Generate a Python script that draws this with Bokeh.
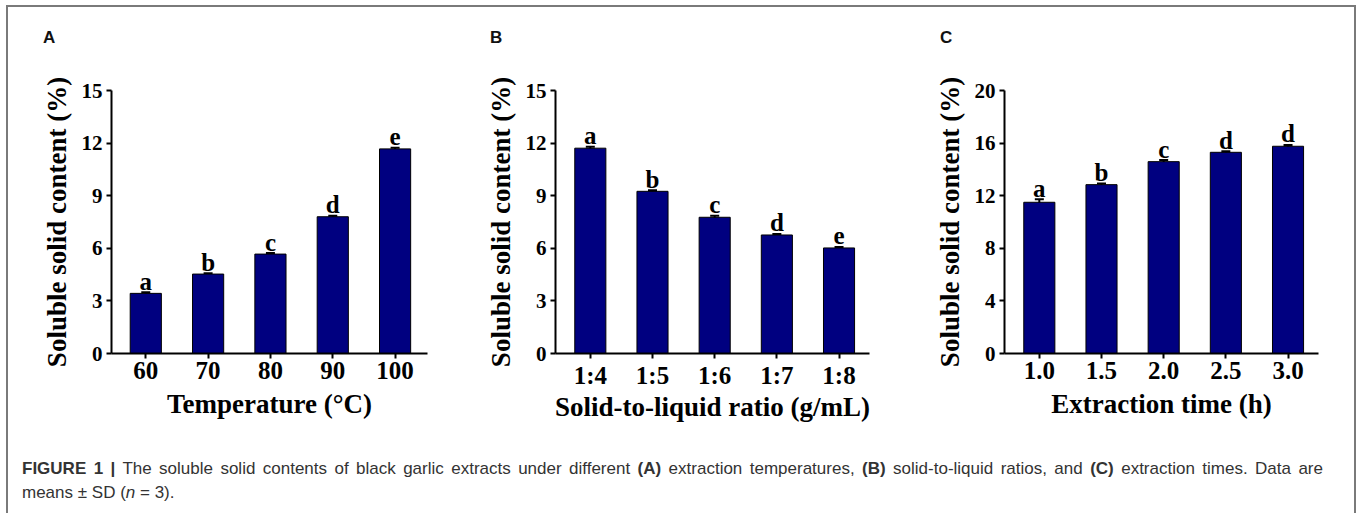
from bokeh.plotting import figure
from bokeh.models import Range1d, FixedTicker, Whisker, ColumnDataSource, Div, TeeHead
from bokeh.layouts import column, row
from bokeh.embed import file_html
from bokeh.resources import INLINE
from bokeh.core.properties import value

# ---------------- data ----------------
temp_labels = ["60", "70", "80", "90", "100"]
temp_means = [3.43, 4.53, 5.67, 7.80, 11.67]
temp_sd = [0.06, 0.05, 0.06, 0.05, 0.07]
temp_letters = ["a", "b", "c", "d", "e"]

ratio_labels = ["1:4", "1:5", "1:6", "1:7", "1:8"]
ratio_means = [11.71, 9.25, 7.77, 6.76, 6.02]
ratio_sd = [0.08, 0.06, 0.08, 0.06, 0.06]
ratio_letters = ["a", "b", "c", "d", "e"]

time_labels = ["1.0", "1.5", "2.0", "2.5", "3.0"]
time_means = [11.50, 12.84, 14.59, 15.30, 15.76]
time_sd = [0.23, 0.08, 0.12, 0.08, 0.10]
time_letters = ["a", "b", "c", "d", "d"]

yticks_ab = [0, 3, 6, 9, 12, 15]
yticks_c = [0, 4, 8, 12, 16, 20]

panel_tags = ["A", "B", "C"]

SERIF = "Liberation Serif"
SANS = "Liberation Sans"
BAR = "#000080"

CONTENT_TOP = 7       # page y of content (inside the border)
TAG_H = 40            # height of the panel-tag strip
FRAME_TOP_PAGE = 90
FRAME_H = 263
FIG_TOP_PAGE = CONTENT_TOP + TAG_H


def panel(labels, means, sd, letters, yticks, xlabel,
          fig_left_page, fig_w, frame_left_page, frame_w, xstart, xend,
          xlabel_standoff):
    ymax = yticks[-1]
    left = frame_left_page - fig_left_page
    right = fig_w - left - frame_w
    p = figure(title=None, frame_width=frame_w, frame_height=FRAME_H,
               min_border_left=left, min_border_right=right,
               min_border_top=FRAME_TOP_PAGE - FIG_TOP_PAGE, min_border_bottom=72,
               x_range=Range1d(xstart, xend), y_range=Range1d(0, ymax),
               output_backend="svg", toolbar_location=None)
    p.outline_line_color = None
    p.grid.visible = False
    p.background_fill_color = "white"
    p.border_fill_color = "white"

    ppu_y = FRAME_H / ymax
    xs = list(range(len(labels)))
    upper = [m + s for m, s in zip(means, sd)]
    src = ColumnDataSource(dict(
        x=xs, top=means,
        upper=upper,
        lower=[m - s for m, s in zip(means, sd)],
        lety=[u + 11 / ppu_y for u in upper],
        letter=letters))
    p.vbar(x="x", top="top", width=0.5, source=src,
           fill_color=BAR, line_color="black", line_width=1)
    w = Whisker(source=src, base="x", upper="upper", lower="lower",
                line_color="black", line_width=2,
                upper_head=TeeHead(size=9, line_width=2, line_color="black"),
                lower_head=TeeHead(size=9, line_width=2, line_color="black"))
    p.add_layout(w)
    p.text(x="x", y="lety", text="letter", source=src,
           text_font=value(SERIF), text_font_style="bold", text_font_size="25px",
           text_align="center", text_baseline="middle",
           text_color="black")

    for ax in (p.xaxis[0], p.yaxis[0]):
        ax.axis_line_width = 2
        ax.axis_line_color = "black"
        ax.major_tick_line_width = 2
        ax.major_tick_line_color = "black"
        ax.major_tick_out = 5
        ax.major_tick_in = 0
        ax.minor_tick_line_color = None
        ax.major_label_text_font = SERIF
        ax.major_label_text_font_style = "bold"
        ax.major_label_text_color = "black"
        ax.axis_label_text_font = SERIF
        ax.axis_label_text_font_style = "bold"
        ax.axis_label_text_font_size = "27px"
        ax.axis_label_text_color = "black"

    p.xaxis.ticker = FixedTicker(ticks=xs)
    p.xaxis.major_label_overrides = {i: lab for i, lab in zip(xs, labels)}
    p.xaxis.major_label_text_font_size = "25px"
    p.xaxis.major_label_standoff = 3
    p.xaxis.axis_label = xlabel
    p.xaxis.axis_label_standoff = xlabel_standoff

    p.yaxis.ticker = FixedTicker(ticks=yticks)
    p.yaxis.major_label_text_font_size = "21px"
    p.yaxis.major_label_standoff = 4
    p.yaxis.axis_label = "Soluble solid content (%)"
    p.yaxis.axis_label_standoff = 7
    return p


pA = panel(temp_labels, temp_means, temp_sd, temp_letters, yticks_ab,
           "Temperature (°C)",
           fig_left_page=8, fig_w=462, frame_left_page=111, frame_w=316,
           xstart=-0.55, xend=4.52, xlabel_standoff=7)
pB = panel(ratio_labels, ratio_means, ratio_sd, ratio_letters, yticks_ab,
           "Solid-to-liquid ratio (g/mL)",
           fig_left_page=470, fig_w=445, frame_left_page=555, frame_w=314,
           xstart=-0.56, xend=4.49, xlabel_standoff=0)
pC = panel(time_labels, time_means, time_sd, time_letters, yticks_c,
           "Extraction time (h)",
           fig_left_page=915, fig_w=439, frame_left_page=1004, frame_w=314,
           xstart=-0.56, xend=4.49, xlabel_standoff=7)

# panel tags strip
tag_left_page = [43, 490, 940]
tag_spans = "".join(
    f"<span style=\"position:absolute;left:{x - 8}px;top:22px;\">{t}</span>"
    for t, x in zip(panel_tags, tag_left_page))
tag_html = (
    "<div style=\"position:relative;width:1346px;height:40px;"
    "font-family:'Liberation Sans',Arial,sans-serif;font-weight:bold;font-size:17px;"
    f"line-height:17px;color:#111111;\">{tag_spans}</div>"
)
tags = Div(text=tag_html, width=1346, height=TAG_H, margin=0)

caption_html = (
    "<div style=\"font-family:'Liberation Sans',Arial,sans-serif;font-size:17px;"
    "line-height:24px;color:#333333;padding:32px 0 0 14px;width:1315px;\">"
    "<div style=\"text-align:justify;text-align-last:justify;white-space:nowrap;\">"
    "<b>FIGURE 1 |</b> The soluble solid contents of black garlic extracts under different "
    "<b>(A)</b> extraction temperatures, <b>(B)</b> solid-to-liquid ratios, and "
    "<b>(C)</b> extraction times. Data are</div>"
    "<div>means &plusmn; SD (<i>n</i> = 3).</div></div>"
)
cap = Div(text=caption_html, width=1346, height=88, margin=0)

layout = column(tags, row(pA, pB, pC), cap,
                styles={"border-top": "2px solid #7a7a7a",
                        "border-left": "2px solid #7a7a7a",
                        "border-right": "2px solid #7a7a7a",
                        "margin-left": "6px",
                        "margin-top": "5px",
                        "background": "white"})

open("out.html", "w").write(file_html(layout, INLINE))
